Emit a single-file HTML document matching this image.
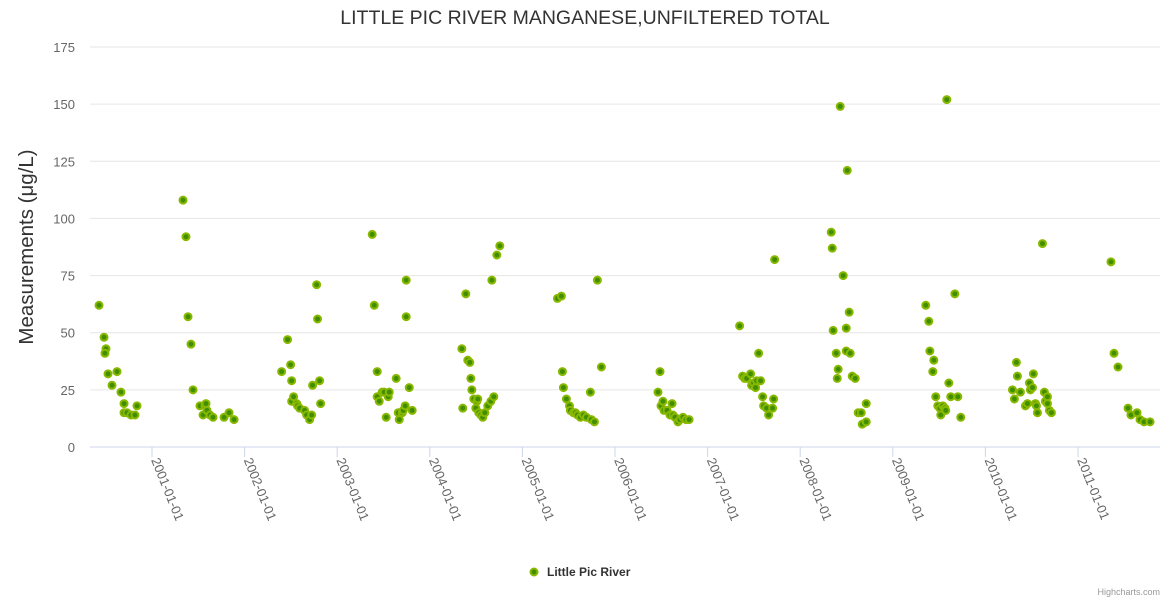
<!DOCTYPE html>
<html><head><meta charset="utf-8"><style>
html,body{margin:0;padding:0;background:#fff;}
svg{display:block;font-family:"Liberation Sans",sans-serif;}
</style></head><body>
<svg id="chart" width="1170" height="600">
<text x="585" y="24" text-anchor="middle" font-size="19.5" fill="#333">LITTLE PIC RIVER MANGANESE,UNFILTERED TOTAL</text>
<text transform="translate(33,247) rotate(-90)" text-anchor="middle" font-size="20.5" fill="#333">Measurements (μg/L)</text>
<g id="grid"></g><g id="xaxis"></g><g id="points"></g>
<g>
<circle cx="534" cy="572" r="3.5" fill="#3f8f00" stroke="#8ab800" stroke-width="2"></circle>
<text x="547" y="576" font-size="12" font-weight="bold" fill="#333">Little Pic River</text>
</g>
<text x="1160" y="595" text-anchor="end" font-size="9" fill="#999">Highcharts.com</text>
</svg>
<script>
const yTicks=[0,25,50,75,100,125,150,175];
const xTickLabels=["2001-01-01","2002-01-01","2003-01-01","2004-01-01","2005-01-01","2006-01-01","2007-01-01","2008-01-01","2009-01-01","2010-01-01","2011-01-01"];
const dates=[2000.428,2000.482,2000.503,2000.492,2000.525,2000.568,2000.622,2000.665,2000.698,2000.698,2000.73,2000.773,2000.816,2000.838,
2001.335,2001.367,2001.389,2001.421,2001.443,2001.518,2001.551,2001.572,2001.583,2001.594,2001.626,2001.659,2001.778,2001.832,2001.886,
2002.40,2002.464,2002.497,2002.508,2002.508,2002.529,2002.562,2002.572,2002.594,2002.648,2002.67,2002.702,2002.724,2002.734,2002.778,2002.788,2002.81,2002.821,
2003.378,2003.40,2003.432,2003.432,2003.454,2003.486,2003.508,2003.529,2003.551,2003.562,2003.637,2003.67,2003.659,2003.702,2003.713,2003.734,2003.745,2003.745,2003.778,2003.81,
2004.346,2004.356,2004.389,2004.41,2004.432,2004.443,2004.454,2004.475,2004.497,2004.508,2004.518,2004.529,2004.551,2004.572,2004.594,2004.626,2004.659,2004.67,2004.691,2004.724,2004.756,
2005.378,2005.421,2005.432,2005.443,2005.475,2005.508,2005.518,2005.551,2005.572,2005.594,2005.626,2005.659,2005.691,2005.734,2005.745,2005.778,2005.81,2005.853,
2006.464,2006.486,2006.497,2006.518,2006.529,2006.562,2006.594,2006.616,2006.626,2006.648,2006.68,2006.702,2006.734,2006.767,2006.80,
2007.346,2007.378,2007.40,2007.421,2007.464,2007.475,2007.497,2007.518,2007.529,2007.551,2007.572,2007.594,2007.605,2007.637,2007.659,2007.702,2007.713,2007.724,
2008.335,2008.346,2008.356,2008.389,2008.40,2008.41,2008.432,2008.464,2008.497,2008.497,2008.508,2008.529,2008.54,2008.562,2008.594,2008.626,2008.659,2008.67,2008.713,2008.713,
2009.356,2009.389,2009.40,2009.432,2009.443,2009.464,2009.486,2009.508,2009.518,2009.54,2009.562,2009.572,2009.583,2009.605,2009.626,2009.67,2009.702,2009.734,
2010.292,2010.313,2010.335,2010.346,2010.378,2010.432,2010.454,2010.475,2010.486,2010.508,2010.518,2010.54,2010.551,2010.562,2010.616,2010.637,2010.648,2010.67,2010.67,2010.691,2010.713,
2011.356,2011.389,2011.432,2011.54,2011.572,2011.637,2011.67,2011.713,2011.778];
const values=[62,48,43,41,32,27,33,24,19,15,15,14,14,18,
108,92,57,45,25,18,14,18,19,16,14,13,13,15,12,
33,47,36,29,20,22,19,18,17,16,14,12,14,27,71,56,29,19,
93,62,33,22,20,24,24,13,22,24,30,12,15,15,16,18,73,57,26,16,
43,17,67,38,37,30,25,21,17,20,21,15,14,13,15,18,20,73,22,84,88,
65,66,33,26,21,18,16,15,15,14,13,14,13,24,12,11,73,35,
24,33,18,20,16,16,14,19,14,13,11,12,13,12,12,
53,31,30,30,32,27,28,26,29,41,29,22,18,17,14,17,21,82,
94,87,51,41,30,34,149,75,52,42,121,59,41,31,30,15,15,10,19,11,
62,55,42,33,38,22,18,17,14,18,17,16,152,28,22,67,22,13,
25,21,37,31,24,18,19,28,25,26,32,19,18,15,89,24,20,22,19,16,15,
81,41,35,17,14,15,12,11,11];
const NS="http://www.w3.org/2000/svg";
const L=90,R=1160,T=47,B=447;
function xs(yr){return 152+(yr-2001)*92.6;}
function ys(v){return B-(v/175)*(B-T);}
const grid=document.getElementById('grid');
yTicks.forEach(t=>{
 const ln=document.createElementNS(NS,'line');
 ln.setAttribute('x1',L);ln.setAttribute('x2',R);ln.setAttribute('y1',ys(t));ln.setAttribute('y2',ys(t));
 ln.setAttribute('stroke',t===0?'#ccd6eb':'#e6e6e6');ln.setAttribute('stroke-width','1');
 
 
 grid.appendChild(ln);
 const tx=document.createElementNS(NS,'text');
 tx.setAttribute('x',75);tx.setAttribute('y',ys(t)+5);tx.setAttribute('text-anchor','end');
 tx.setAttribute('font-size','13');tx.setAttribute('fill','#666');tx.textContent=t;
 
 
 grid.appendChild(tx);
});
const xa=document.getElementById('xaxis');
xTickLabels.forEach(lbl=>{
 const yr=parseInt(lbl.slice(0,4));const x=xs(yr);
 const tk=document.createElementNS(NS,'line');
 tk.setAttribute('x1',x);tk.setAttribute('x2',x);tk.setAttribute('y1',B);tk.setAttribute('y2',B+10);
 tk.setAttribute('stroke','#ccd6eb');
 
 
 xa.appendChild(tk);
 const tx=document.createElementNS(NS,'text');
 tx.setAttribute('transform','translate('+(x-1)+','+(B+13)+') rotate(68)');
 tx.setAttribute('font-size','13');tx.setAttribute('fill','#666');tx.textContent=lbl;
 
 
 xa.appendChild(tx);
});
const pg=document.getElementById('points');
dates.forEach((d,i)=>{
 const c=document.createElementNS(NS,'circle');
 c.setAttribute('cx',xs(d));c.setAttribute('cy',ys(values[i]));c.setAttribute('r','3.5');
 c.setAttribute('fill','#3f8f00');c.setAttribute('stroke','#8ab800');c.setAttribute('stroke-width','2');
 
 
 pg.appendChild(c);
});
</script>
</body></html>
